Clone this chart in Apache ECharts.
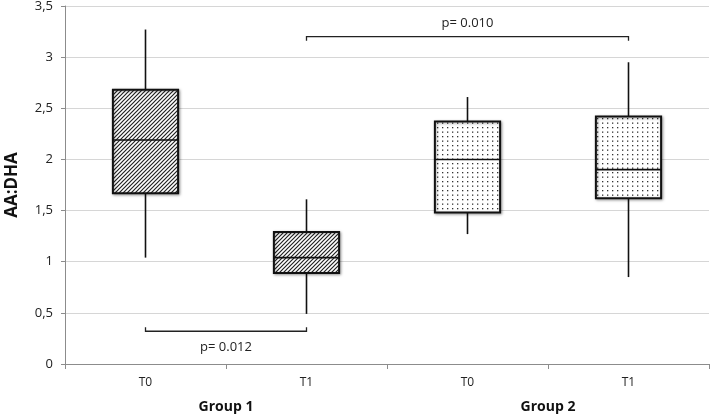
<!DOCTYPE html>
<html>
<head>
<meta charset="utf-8">
<script src="https://cdn.jsdelivr.net/npm/echarts@6/dist/echarts.min.js"></script>
<style>html,body{margin:0;padding:0;background:#fff}#c{width:714px;height:418px}</style>
</head>
<body>
<div id="c"></div>
<script>
// ---- data ----
const categories = ['T0', 'T1', 'T0', 'T1'];
const groups = ['Group 1', 'Group 2'];
// [lower whisker, Q1, median, Q3, upper whisker]
const boxValues = [
  [1.04, 1.67, 2.19, 2.68, 3.27],
  [0.49, 0.89, 1.04, 1.29, 1.61],
  [1.27, 1.48, 2.00, 2.37, 2.61],
  [0.85, 1.62, 1.90, 2.42, 2.95]
];
const boxPattern = ['hatch', 'hatch', 'dots', 'dots'];
// [fromCategory, toCategory, y, tick direction (+1 up, -1 down), label]
const brackets = [
  [0, 1, 0.32, 1, 'p= 0.012'],
  [1, 3, 3.2, -1, 'p= 0.010']
];
const yTicks = { min: 0, max: 3.5, interval: 0.5 };
const yName = 'AA:DHA';

// ---- patterns ----
function hatchCanvas() {
  const s = 4, c = document.createElement('canvas');
  c.width = s; c.height = s;
  const g = c.getContext('2d');
  g.fillStyle = '#fff'; g.fillRect(0, 0, s, s);
  g.strokeStyle = '#222'; g.lineWidth = 1.2;
  g.beginPath();
  g.moveTo(-1, s + 1); g.lineTo(s + 1, -1);
  g.moveTo(-1, 1); g.lineTo(1, -1);
  g.moveTo(s - 1, s + 1); g.lineTo(s + 1, s - 1);
  g.stroke();
  return c;
}
function dotCanvas() {
  const c = document.createElement('canvas');
  c.width = 5; c.height = 9;
  const g = c.getContext('2d');
  g.fillStyle = '#fff'; g.fillRect(0, 0, 5, 9);
  g.fillStyle = '#333';
  g.fillRect(2, 1, 1.3, 1.3);
  g.fillRect(2, 5.5, 1.3, 1.3);
  return c;
}
const patterns = {
  hatch: { image: hatchCanvas(), repeat: 'repeat' },
  dots: { image: dotCanvas(), repeat: 'repeat' }
};

const chart = echarts.init(document.getElementById('c'));
const font = '"Open Sans", "Liberation Sans", sans-serif';

const option = {
  animation: false,
  grid: { left: 65, right: 5, top: 6, bottom: 54, containLabel: false, outerBoundsMode: 'none' },
  xAxis: [
    {
      type: 'category', data: categories, boundaryGap: true,
      axisLine: { lineStyle: { color: '#8c8c8c', width: 1 } },
      axisTick: { show: true, length: 5, lineStyle: { color: '#8c8c8c' } },
      axisLabel: { color: '#222', fontSize: 12, fontFamily: font, margin: 13 },
      splitLine: { show: false }
    },
    {
      type: 'category', data: groups, position: 'bottom', offset: 32,
      axisLine: { show: false }, axisTick: { show: false },
      axisLabel: { color: '#111', fontSize: 14, fontWeight: 'bold', fontFamily: font, margin: 4 }
    }
  ],
  yAxis: {
    type: 'value', min: yTicks.min, max: yTicks.max, interval: yTicks.interval,
    name: yName, nameLocation: 'middle', nameGap: 44, nameRotate: 90,
    nameTextStyle: { fontSize: 17, fontWeight: 'bold', color: '#111', fontFamily: font },
    axisLine: { show: true, lineStyle: { color: '#8c8c8c' } },
    axisTick: { show: true, length: 4, lineStyle: { color: '#8c8c8c' } },
    axisLabel: {
      color: '#222', fontSize: 13, fontFamily: font, margin: 12,
      formatter: v => String(v).replace('.', ',')
    },
    splitLine: { lineStyle: { color: '#d6d6d6', width: 1.2 } }
  },
  series: [
    {
      type: 'custom',
      xAxisIndex: 0,
      data: boxValues.map((b, i) => [i].concat(b)),
      encode: { x: 0, y: [1, 2, 3, 4, 5] },
      renderItem: function (params, api) {
        const i = api.value(0);
        const lo = api.coord([i, api.value(1)]);
        const q1 = api.coord([i, api.value(2)]);
        const med = api.coord([i, api.value(3)]);
        const q3 = api.coord([i, api.value(4)]);
        const hi = api.coord([i, api.value(5)]);
        const w = api.size([1, 0])[0] * 0.405;
        const x = lo[0];
        const lineStyle = { stroke: '#111', lineWidth: 1.6 };
        return {
          type: 'group',
          children: [
            { type: 'line', shape: { x1: x, y1: hi[1], x2: x, y2: q3[1] }, style: lineStyle },
            { type: 'line', shape: { x1: x, y1: q1[1], x2: x, y2: lo[1] }, style: lineStyle },
            {
              type: 'rect',
              shape: { x: x - w / 2, y: q3[1], width: w, height: q1[1] - q3[1] },
              style: {
                fill: patterns[boxPattern[i]], stroke: '#111', lineWidth: 2,
                shadowBlur: 3, shadowColor: 'rgba(0,0,0,0.35)', shadowOffsetX: 1, shadowOffsetY: 1
              }
            },
            { type: 'line', shape: { x1: x - w / 2, y1: med[1], x2: x + w / 2, y2: med[1] }, style: { stroke: '#111', lineWidth: 1.6 } }
          ]
        };
      },
      z: 3
    },
    {
      type: 'custom',
      xAxisIndex: 0,
      data: brackets.map(b => [b[0], b[1], b[2], b[3]]),
      renderItem: function (params, api) {
        const b = brackets[params.dataIndex];
        const p1 = api.coord([api.value(0), api.value(2)]);
        const p2 = api.coord([api.value(1), api.value(2)]);
        const dir = api.value(3);
        const t = 4 * dir;
        const st = { stroke: '#222', lineWidth: 1.3, fill: null };
        const textY = dir > 0 ? p1[1] + 16 : p1[1] - 13;
        return {
          type: 'group',
          children: [
            { type: 'polyline', shape: { points: [[p1[0], p1[1] - t], [p1[0], p1[1]], [p2[0], p2[1]], [p2[0], p2[1] - t]] }, style: st },
            {
              type: 'text',
              style: {
                x: (p1[0] + p2[0]) / 2, y: textY, text: b[4],
                fill: '#222', font: '13px ' + font, textAlign: 'center', textVerticalAlign: 'middle'
              }
            }
          ]
        };
      },
      z: 4
    }
  ]
};
chart.setOption(option);
</script>
</body>
</html>
